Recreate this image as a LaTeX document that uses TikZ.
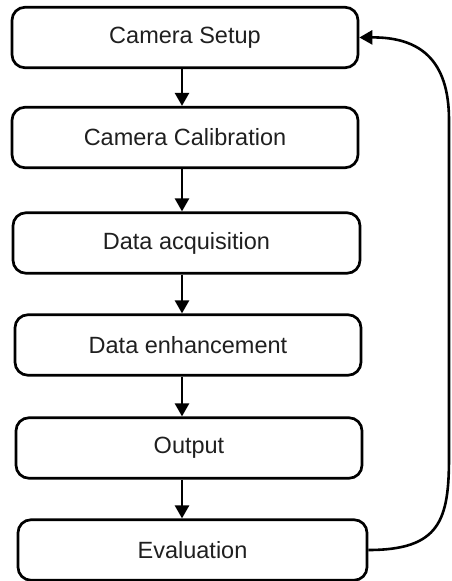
\documentclass[tikz,border=0pt]{standalone}
\usepackage{fontspec}
\setmainfont{Liberation Sans}
\usetikzlibrary{arrows.meta}
\begin{document}
\begin{tikzpicture}[x=1pt,y=-1pt,
  stepbox/.style={draw=black,line width=2.7pt,rounded corners=13pt,rectangle,inner sep=0pt,
    minimum height=60.5pt,font=\fontsize{23.5}{27}\selectfont,text=black!88},
  arr/.style={line width=2.6pt,-{Triangle[length=13pt,width=14pt]}}]
\useasboundingbox (0,0) rectangle (451,581);
\node[stepbox,minimum width=346pt] (n1) at (185,37.5) {Camera Setup};
\node[stepbox,minimum width=346pt] (n2) at (185,137.5) {Camera Calibration};
\node[stepbox,minimum width=347pt] (n3) at (186.5,243) {Data acquisition};
\node[stepbox,minimum width=346pt] (n4) at (188,345) {Data enhancement};
\node[stepbox,minimum width=346pt] (n5) at (189,448) {Output};
\node[stepbox,minimum width=349pt] (n6) at (192.5,550) {Evaluation};
\coordinate (ax) at (182,0);
\draw[arr] (n1.south -| ax) -- (n2.north -| ax);
\draw[arr] (n2.south -| ax) -- (n3.north -| ax);
\draw[arr] (n3.south -| ax) -- (n4.north -| ax);
\draw[arr] (n4.south -| ax) -- (n5.north -| ax);
\draw[arr] (n5.south -| ax) -- (n6.north -| ax);
\coordinate (r1) at (449,457);
\coordinate (r2) at (449,120);
\draw[arr] (n6.east) .. controls (440,550) and (449,520) .. (r1) -- (r2)
  .. controls (449,60) and (420,37) .. (n1.east);
\end{tikzpicture}
\end{document}
